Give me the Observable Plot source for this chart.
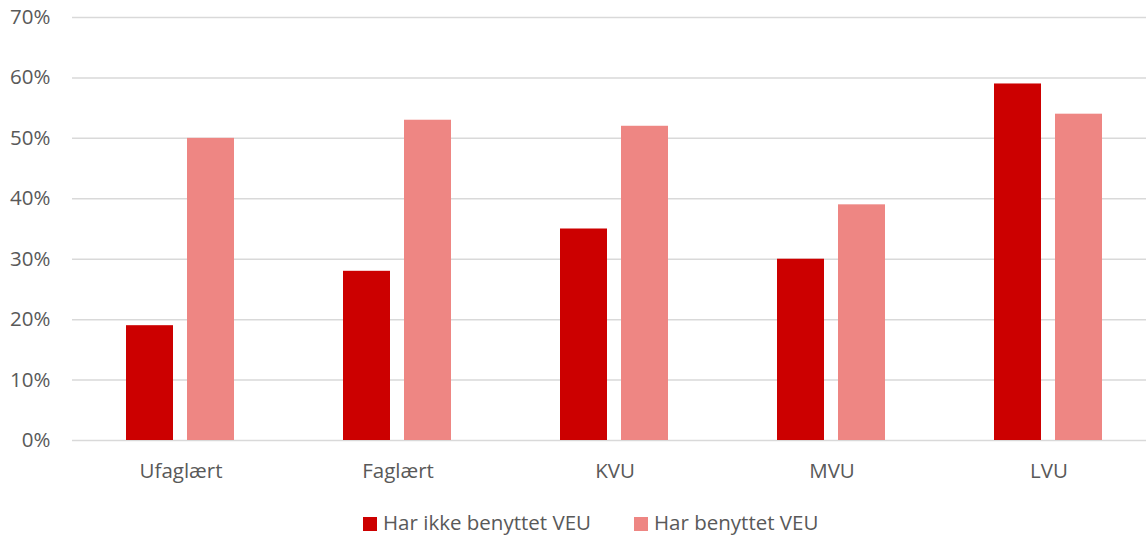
<!DOCTYPE html>
<html>
<head>
<meta charset="utf-8">
<script src="https://cdn.jsdelivr.net/npm/d3@7"></script>
<script src="https://cdn.jsdelivr.net/npm/@observablehq/plot@0.6"></script>
<style>
  body { margin: 0; background: #fff; font-family: "Open Sans", sans-serif; }
  #legend { position: relative; height: 45px; color: #595959; font-size: 20.5px; }
  #legend .item { position: absolute; top: 20px; white-space: nowrap; line-height: 24px; }
  #legend span.sw { display: inline-block; width: 14px; height: 14px; margin-right: 6px; vertical-align: -1px; }
</style>
</head>
<body>
<div id="chart"></div>
<div id="legend"></div>
<script>
const categories = ["Ufaglært", "Faglært", "KVU", "MVU", "LVU"];
const seriesNames = ["Har ikke benyttet VEU", "Har benyttet VEU"];
const notUsed = [19, 28, 35, 30, 59];
const used = [50, 53, 52, 39, 54];
const colors = ["#CC0000", "#EE8683"];
const yTicks = [0, 10, 20, 30, 40, 50, 60, 70];

const data = [];
categories.forEach((c, i) => {
  data.push({category: c, series: seriesNames[0], value: notUsed[i] / 100});
  data.push({category: c, series: seriesNames[1], value: used[i] / 100});
});

const chart = Plot.plot({
  width: 1146,
  height: 490,
  marginLeft: 72,
  marginRight: -11,
  marginTop: 17,
  marginBottom: 50,
  style: {fontFamily: "Open Sans, sans-serif", fontSize: "20.5px", color: "#595959", background: "#fff", overflow: "visible"},
  fx: {domain: categories, label: null, paddingInner: 0, paddingOuter: 0, axis: "bottom", tickSize: 0, tickPadding: 23},
  x: {domain: seriesNames, axis: null, paddingInner: 0.2258, paddingOuter: 0.863},
  y: {domain: [0, 0.7], ticks: yTicks.map(d => d / 100), tickFormat: d => Math.round(d * 100) + "%", label: null, tickSize: 0, tickPadding: 22},
  color: {domain: seriesNames, range: colors},
  marks: [
    Plot.ruleY(yTicks.map(d => d / 100), {stroke: "#D9D9D9", strokeWidth: 1.5}),
    Plot.barY(data, {fx: "category", x: "series", y: "value", fill: "series"})
  ]
});
document.getElementById("chart").appendChild(chart);

const legend = document.getElementById("legend");
const legendLeft = [363, 634];
seriesNames.forEach((s, i) => {
  const item = document.createElement("div");
  item.className = "item";
  item.style.left = legendLeft[i] + "px";
  item.innerHTML = `<span class="sw" style="background:${colors[i]}"></span>${s}`;
  legend.appendChild(item);
});
</script>
</body>
</html>
